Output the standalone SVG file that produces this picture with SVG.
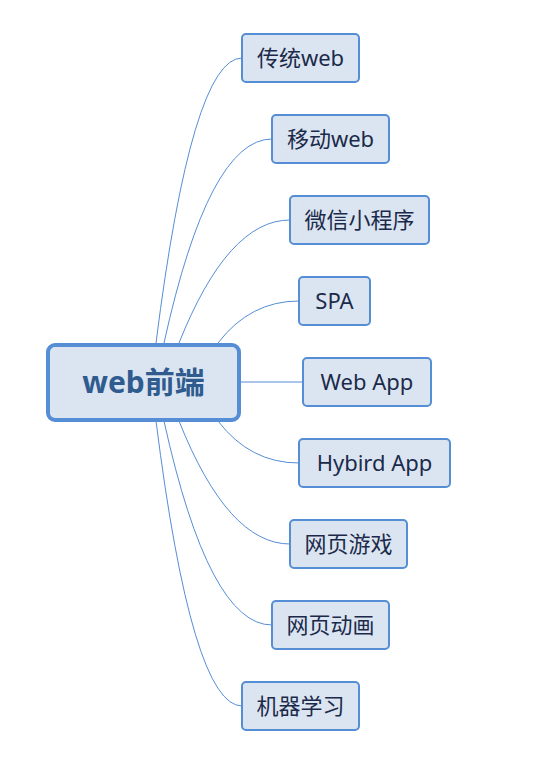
<svg xmlns="http://www.w3.org/2000/svg" width="536" height="778" viewBox="0 0 536 778">
<style>
.bg{fill:#ffffff}
.node rect{fill:#dbe5f1;stroke:#558ed5;stroke-width:2}
.node text{font-family:"Noto Sans","Noto Sans CJK SC",sans-serif;font-size:22px;fill:#1b2a4a;text-anchor:middle}
#root rect{stroke-width:4}
#root text{font-size:30px;font-weight:bold;fill:#2f5b8f}
#connectors path{fill:none;stroke:#558ed5;stroke-width:1}
</style>
<rect class="bg" x="0" y="0" width="536" height="778"/>
<g id="connectors">
<path d="M156,343 Q192,58 242,58"/>
<path d="M164,343 Q209,139 272,139"/>
<path d="M179,343 Q228,220 290,220"/>
<path d="M218,343 Q250,301 299,301"/>
<path d="M241,382 L303,382"/>
<path d="M218,421 Q250,463 299,463"/>
<path d="M179,421 Q228,544 290,544"/>
<path d="M164,421 Q209,625 272,625"/>
<path d="M156,421 Q192,706 242,706"/>
</g>
<g id="root" class="node"><rect x="48" y="345" width="191" height="75" rx="7"/><text x="143.5" y="393">web前端</text></g>
<g id="n1" class="node"><rect x="242" y="34" width="117" height="48" rx="4"/><text x="300.5" y="66">传统web</text></g>
<g id="n2" class="node"><rect x="272" y="115" width="117" height="48" rx="4"/><text x="330.5" y="147">移动web</text></g>
<g id="n3" class="node"><rect x="290" y="196" width="139" height="48" rx="4"/><text x="359.5" y="228">微信小程序</text></g>
<g id="n4" class="node"><rect x="299" y="277" width="71" height="48" rx="4"/><text x="334.5" y="309">SPA</text></g>
<g id="n5" class="node"><rect x="303" y="358" width="128" height="48" rx="4"/><text x="367" y="390">Web App</text></g>
<g id="n6" class="node"><rect x="299" y="439" width="151" height="48" rx="4"/><text x="374.5" y="471">Hybird App</text></g>
<g id="n7" class="node"><rect x="290" y="520" width="117" height="48" rx="4"/><text x="348.5" y="552">网页游戏</text></g>
<g id="n8" class="node"><rect x="272" y="601" width="117" height="48" rx="4"/><text x="330.5" y="633">网页动画</text></g>
<g id="n9" class="node"><rect x="242" y="682" width="117" height="48" rx="4"/><text x="300.5" y="714">机器学习</text></g>
</svg>
